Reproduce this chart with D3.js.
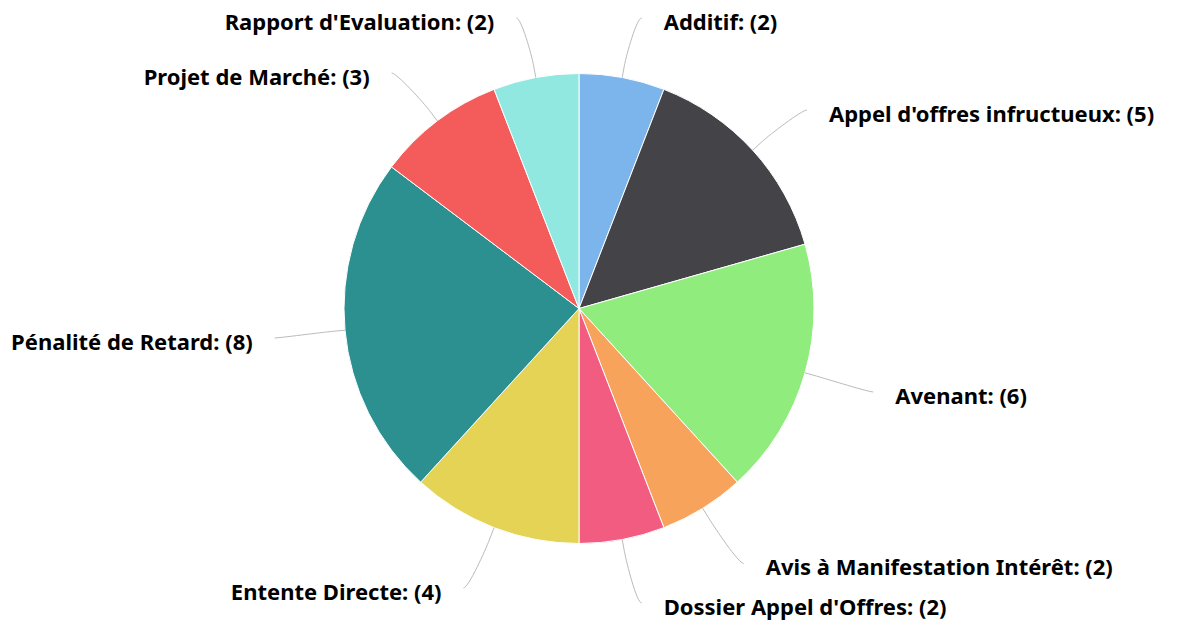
<!DOCTYPE html>
<html>
<head>
<meta charset="utf-8">
<script src="https://cdn.jsdelivr.net/npm/d3@7"></script>
<style>
  body { margin: 0; background: #fff; }
  .lbl { font-family: "Noto Sans", sans-serif; font-size: 22px; font-weight: bold; fill: #000; }
  .conn { fill: none; stroke: #bbb; stroke-width: 1; }
</style>
</head>
<body>
<div id="chart"></div>
<script>
var categories = ["Additif", "Appel d'offres infructueux", "Avenant", "Avis à Manifestation Intérêt",
                  "Dossier Appel d'Offres", "Entente Directe", "Pénalité de Retard", "Projet de Marché",
                  "Rapport d'Evaluation"];
var counts = [2, 5, 6, 2, 2, 4, 8, 3, 2];
var colors = ["#7cb5ec", "#434348", "#90ed7d", "#f7a35c", "#f15c80", "#e4d354", "#2b908f", "#f45b5b", "#91e8e1"];

var width = 1182, height = 626;
var cx = 579, cy = 308.5, radius = 235,
    labelRadius = 297.6, labelOffsetY = 6, textPad = 30;

var data = categories.map(function(c, i) { return {name: c, value: counts[i], color: colors[i]}; });

var svg = d3.select('#chart')
    .append('svg')
    .attr('width', width)
    .attr('height', height);

var pie = d3.pie()
    .sort(null)
    .value(function(d) { return d.value; });

var arc = d3.arc()
    .innerRadius(0)
    .outerRadius(radius);

var arcs = pie(data);

var g = svg.append('g')
    .attr('transform', 'translate(' + cx + ',' + cy + ')');

g.selectAll('path.slice')
    .data(arcs)
    .enter().append('path')
    .attr('class', 'slice')
    .attr('d', arc)
    .attr('fill', function(d) { return d.data.color; })
    .attr('stroke', '#fff')
    .attr('stroke-width', 1);

// label anchor, connector break point and slice touch point for one arc
function labelPos(d) {
    var a = (d.startAngle + d.endAngle) / 2,
        s = Math.sin(a), c = Math.cos(a),
        left = s < 0;
    var px = labelRadius * s,
        py = -labelRadius * c + labelOffsetY;
    var tx = radius * s, ty = -radius * c;
    var bx = (radius + 12) * s, by = -(radius + 12) * c;
    var ex = px + (left ? -8 : 8), ey = py - 4;
    return {left: left, px: px, py: py, tx: tx, ty: ty, bx: bx, by: by, ex: ex, ey: ey};
}

g.selectAll('path.conn')
    .data(arcs)
    .enter().append('path')
    .attr('class', 'conn')
    .attr('d', function(d) {
        var p = labelPos(d);
        return 'M' + p.ex + ',' + p.ey +
            'C' + (p.ex + (p.left ? 5 : -5)) + ',' + p.ey + ' ' +
            (2 * p.bx - p.tx) + ',' + (2 * p.by - p.ty) + ' ' + p.bx + ',' + p.by +
            'L' + p.tx + ',' + p.ty;
    });

g.selectAll('text.lbl')
    .data(arcs)
    .enter().append('text')
    .attr('class', 'lbl')
    .attr('x', function(d) { var p = labelPos(d); return p.px + (p.left ? -textPad : textPad); })
    .attr('y', function(d) { return labelPos(d).py; })
    .attr('dy', '0.35em')
    .attr('text-anchor', function(d) { return labelPos(d).left ? 'end' : 'start'; })
    .text(function(d) { return d.data.name + ': (' + d.data.value + ')'; });
</script>
</body>
</html>
